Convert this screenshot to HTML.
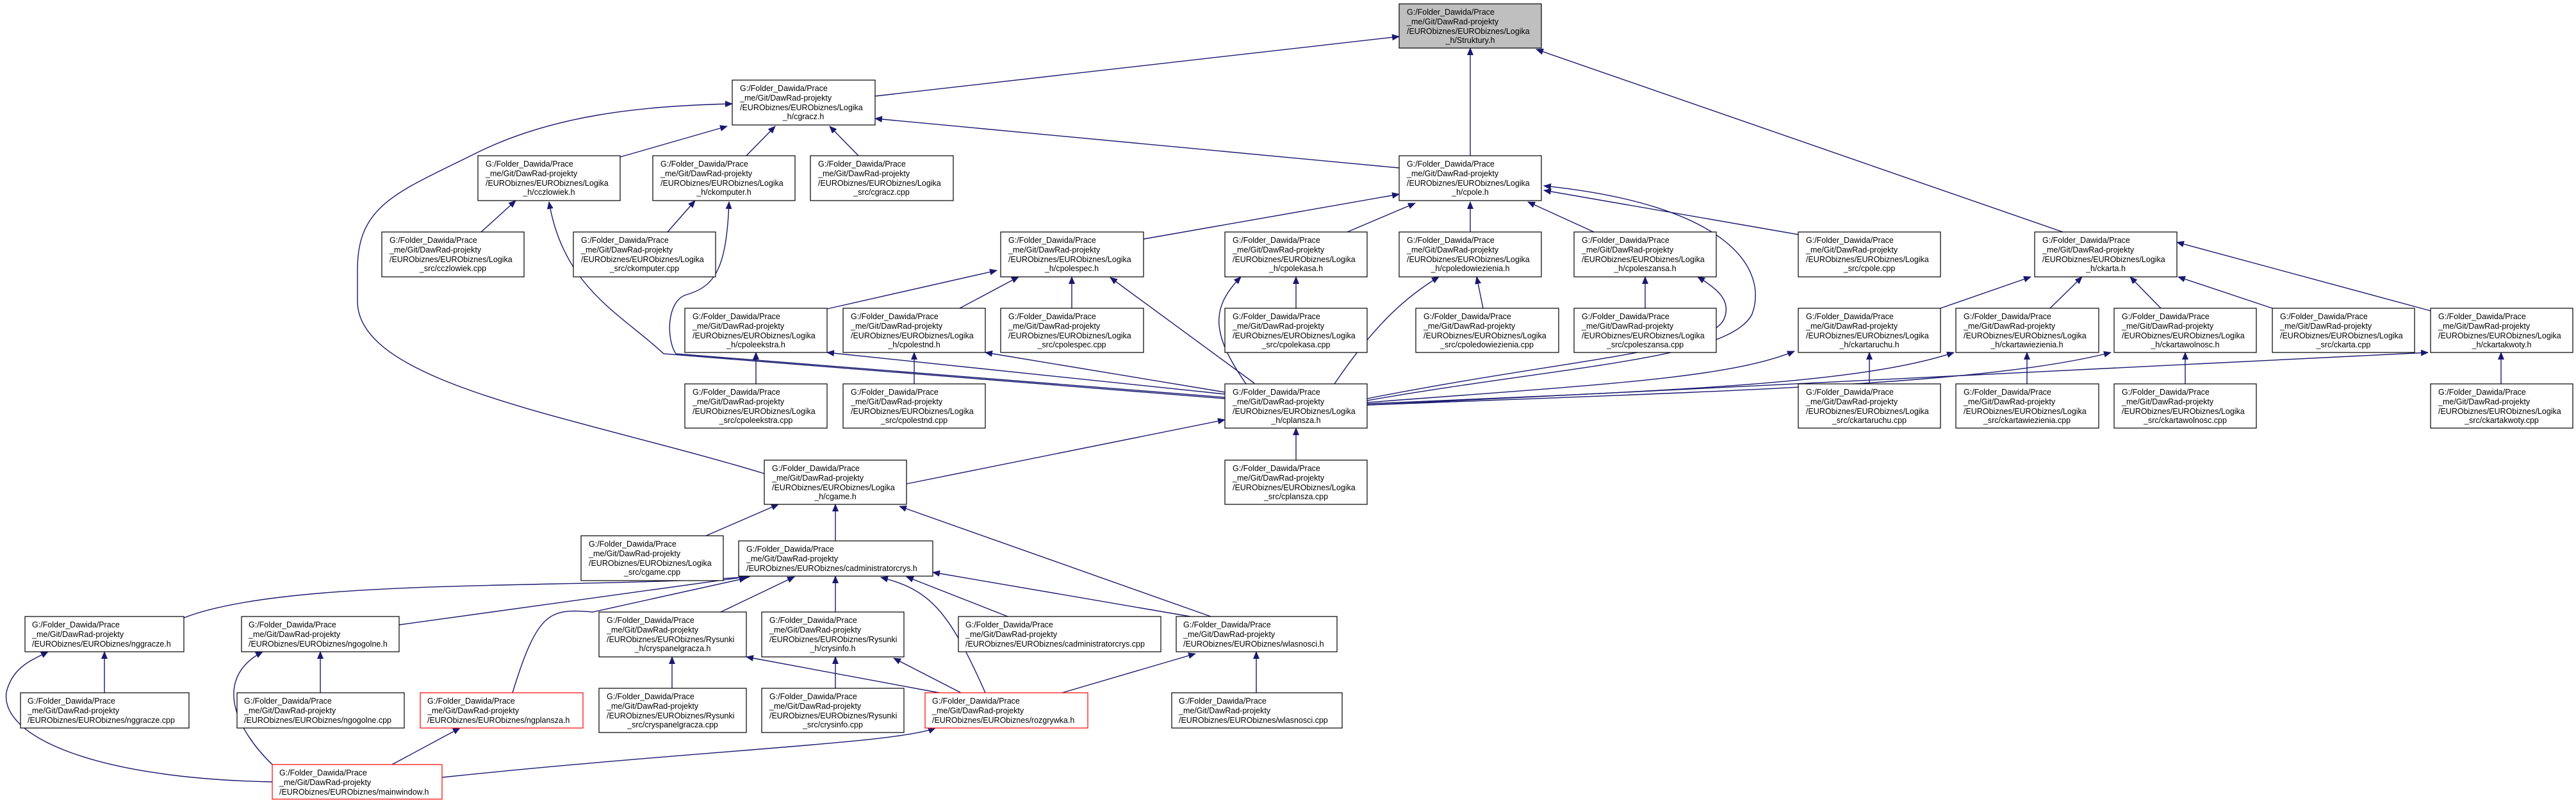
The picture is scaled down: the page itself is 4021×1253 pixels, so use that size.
<!DOCTYPE html>
<html><head><meta charset="utf-8"><style>
html,body{margin:0;padding:0;background:#fff;}
svg{display:block;}
text{font-family:"Liberation Sans",sans-serif;font-size:12.5px;fill:#000;}
.e{fill:none;stroke:#191970;stroke-width:1.4;marker-end:url(#a);}
.n{fill:#fff;stroke:#000;stroke-width:1.2;}
.r{fill:#fff;stroke:#f00;stroke-width:1.2;}
.g{fill:#bfbfbf;stroke:#000;stroke-width:1.2;}
</style></head><body>
<svg width="4021" height="1253" viewBox="0 0 4021 1253" xmlns="http://www.w3.org/2000/svg">
<defs><marker id="a" markerWidth="12" markerHeight="10" refX="11" refY="5" orient="auto" markerUnits="userSpaceOnUse"><polygon points="0,0 12,5 0,10" fill="#191970"/></marker></defs>
<g>
<path class="e" d="M1366,150 L2184,57"/>
<path class="e" d="M2295,243 L2295,75"/>
<path class="e" d="M3220,362 L2398,77"/>
<path class="e" d="M2184,262 L1366,185"/>
<path class="e" d="M968,245 L1135,197"/>
<path class="e" d="M1165,243 L1210,197"/>
<path class="e" d="M1340,243 L1295,197"/>
<path class="e" d="M1193,739 C900,650 558,600 558,470 L558,420 C558,320 620,300 741,240 C860,180 1000,165 1143,162"/>
<path class="e" d="M751,362 L805,313"/>
<path class="e" d="M1912,622 L1036,552 C970,490 880,450 857,315"/>
<path class="e" d="M1042,362 L1085,313"/>
<path class="e" d="M1912,620 L1055,552 C1040,530 1040,470 1071,460 C1116,447 1134,420 1138,315"/>
<path class="e" d="M1785,373 L2184,303"/>
<path class="e" d="M2103,362 L2209,317"/>
<path class="e" d="M2295,362 L2295,315"/>
<path class="e" d="M2488,362 L2385,315"/>
<path class="e" d="M2813,367 L2410,297"/>
<path class="e" d="M2134,625 C2450,570 2700,560 2735,490 C2760,420 2700,320 2410,290"/>
<path class="e" d="M1673,481 L1673,432"/>
<path class="e" d="M1498,481 L1590,432"/>
<path class="e" d="M1291,482 L1556,422"/>
<path class="e" d="M1958,598 L1733,433"/>
<path class="e" d="M2023,481 L2023,432"/>
<path class="e" d="M1945,599 C1890,520 1890,480 1937,432"/>
<path class="e" d="M2315,481 L2305,432"/>
<path class="e" d="M2083,599 C2150,500 2200,460 2246,432"/>
<path class="e" d="M2568,481 L2568,432"/>
<path class="e" d="M2134,622 C2450,560 2660,550 2690,500 C2705,470 2680,450 2650,432"/>
<path class="e" d="M1180,599 L1180,550"/>
<path class="e" d="M1427,599 L1427,550"/>
<path class="e" d="M1912,615 L1291,550"/>
<path class="e" d="M1912,612 L1538,550"/>
<path class="e" d="M1415,755 L1912,655"/>
<path class="e" d="M2023,718 L2023,668"/>
<path class="e" d="M3029,481 L3170,432"/>
<path class="e" d="M3200,481 L3250,432"/>
<path class="e" d="M3373,481 L3325,432"/>
<path class="e" d="M3547,481 L3400,432"/>
<path class="e" d="M3794,485 L3398,378"/>
<path class="e" d="M2134,628 C2500,600 2700,590 2801,548"/>
<path class="e" d="M2134,630 C2600,610 2900,600 3050,550"/>
<path class="e" d="M2134,632 C2700,610 3100,600 3295,550"/>
<path class="e" d="M2134,632 L3790,550"/>
<path class="e" d="M2918,599 L2918,550"/>
<path class="e" d="M3164,599 L3164,550"/>
<path class="e" d="M3411,599 L3411,550"/>
<path class="e" d="M3904,599 L3904,550"/>
<path class="e" d="M1102,836 L1215,787"/>
<path class="e" d="M1304,844 L1304,787"/>
<path class="e" d="M1890,962 L1404,790"/>
<path class="e" d="M287,964 C450,900 900,920 1170,900"/>
<path class="e" d="M623,975 L1165,900"/>
<path class="e" d="M800,1081 C840,950 860,950 925,955 L1165,902"/>
<path class="e" d="M1125,955 L1240,900"/>
<path class="e" d="M1304,955 L1304,899"/>
<path class="e" d="M1538,1081 C1480,950 1450,920 1375,901"/>
<path class="e" d="M1573,962 L1415,900"/>
<path class="e" d="M1858,962 L1456,893"/>
<path class="e" d="M163,1081 L163,1017"/>
<path class="e" d="M500,1081 L500,1017"/>
<path class="e" d="M425,1220 C150,1215 0,1150 10,1080 C20,1040 50,1030 75,1017"/>
<path class="e" d="M425,1193 C370,1140 330,1060 410,1017"/>
<path class="e" d="M612,1193 L718,1136"/>
<path class="e" d="M690,1213 C1100,1170 1400,1160 1460,1136"/>
<path class="e" d="M1049,1074 L1049,1025"/>
<path class="e" d="M1304,1074 L1304,1025"/>
<path class="e" d="M1466,1081 L1165,1025"/>
<path class="e" d="M1500,1081 L1395,1027"/>
<path class="e" d="M1658,1081 L1866,1020"/>
<path class="e" d="M1961,1081 L1961,1017"/>
</g>

<!-- 4-line Logika nodes -->
<g>
<rect class="g" x="2184" y="6" width="222" height="69"/><text x="2196" y="23">G:/Folder_Dawida/Prace</text><text x="2196" y="38">_me/Git/DawRad-projekty</text><text x="2196" y="53">/EURObiznes/EURObiznes/Logika</text><text x="2295" y="67" text-anchor="middle">_h/Struktury.h</text>
<rect class="n" x="1143" y="125" width="223" height="70"/><text x="1155" y="142">G:/Folder_Dawida/Prace</text><text x="1155" y="157">_me/Git/DawRad-projekty</text><text x="1155" y="172">/EURObiznes/EURObiznes/Logika</text><text x="1254" y="186" text-anchor="middle">_h/cgracz.h</text>
<rect class="n" x="746" y="243" width="222" height="70"/><text x="758" y="260">G:/Folder_Dawida/Prace</text><text x="758" y="275">_me/Git/DawRad-projekty</text><text x="758" y="290">/EURObiznes/EURObiznes/Logika</text><text x="857" y="304" text-anchor="middle">_h/cczlowiek.h</text>
<rect class="n" x="1019" y="243" width="222" height="70"/><text x="1031" y="260">G:/Folder_Dawida/Prace</text><text x="1031" y="275">_me/Git/DawRad-projekty</text><text x="1031" y="290">/EURObiznes/EURObiznes/Logika</text><text x="1130" y="304" text-anchor="middle">_h/ckomputer.h</text>
<rect class="n" x="1265" y="243" width="223" height="70"/><text x="1277" y="260">G:/Folder_Dawida/Prace</text><text x="1277" y="275">_me/Git/DawRad-projekty</text><text x="1277" y="290">/EURObiznes/EURObiznes/Logika</text><text x="1376" y="304" text-anchor="middle">_src/cgracz.cpp</text>
<rect class="n" x="2184" y="243" width="222" height="70"/><text x="2196" y="260">G:/Folder_Dawida/Prace</text><text x="2196" y="275">_me/Git/DawRad-projekty</text><text x="2196" y="290">/EURObiznes/EURObiznes/Logika</text><text x="2295" y="304" text-anchor="middle">_h/cpole.h</text>

<rect class="n" x="596" y="362" width="222" height="70"/><text x="608" y="379">G:/Folder_Dawida/Prace</text><text x="608" y="394">_me/Git/DawRad-projekty</text><text x="608" y="409">/EURObiznes/EURObiznes/Logika</text><text x="707" y="423" text-anchor="middle">_src/cczlowiek.cpp</text>
<rect class="n" x="895" y="362" width="222" height="70"/><text x="907" y="379">G:/Folder_Dawida/Prace</text><text x="907" y="394">_me/Git/DawRad-projekty</text><text x="907" y="409">/EURObiznes/EURObiznes/Logika</text><text x="1006" y="423" text-anchor="middle">_src/ckomputer.cpp</text>
<rect class="n" x="1562" y="362" width="223" height="70"/><text x="1574" y="379">G:/Folder_Dawida/Prace</text><text x="1574" y="394">_me/Git/DawRad-projekty</text><text x="1574" y="409">/EURObiznes/EURObiznes/Logika</text><text x="1673" y="423" text-anchor="middle">_h/cpolespec.h</text>
<rect class="n" x="1912" y="362" width="222" height="70"/><text x="1924" y="379">G:/Folder_Dawida/Prace</text><text x="1924" y="394">_me/Git/DawRad-projekty</text><text x="1924" y="409">/EURObiznes/EURObiznes/Logika</text><text x="2023" y="423" text-anchor="middle">_h/cpolekasa.h</text>
<rect class="n" x="2184" y="362" width="222" height="70"/><text x="2196" y="379">G:/Folder_Dawida/Prace</text><text x="2196" y="394">_me/Git/DawRad-projekty</text><text x="2196" y="409">/EURObiznes/EURObiznes/Logika</text><text x="2295" y="423" text-anchor="middle">_h/cpoledowiezienia.h</text>
<rect class="n" x="2457" y="362" width="222" height="70"/><text x="2469" y="379">G:/Folder_Dawida/Prace</text><text x="2469" y="394">_me/Git/DawRad-projekty</text><text x="2469" y="409">/EURObiznes/EURObiznes/Logika</text><text x="2568" y="423" text-anchor="middle">_h/cpoleszansa.h</text>
<rect class="n" x="2807" y="362" width="222" height="70"/><text x="2819" y="379">G:/Folder_Dawida/Prace</text><text x="2819" y="394">_me/Git/DawRad-projekty</text><text x="2819" y="409">/EURObiznes/EURObiznes/Logika</text><text x="2918" y="423" text-anchor="middle">_src/cpole.cpp</text>
<rect class="n" x="3176" y="362" width="222" height="70"/><text x="3188" y="379">G:/Folder_Dawida/Prace</text><text x="3188" y="394">_me/Git/DawRad-projekty</text><text x="3188" y="409">/EURObiznes/EURObiznes/Logika</text><text x="3287" y="423" text-anchor="middle">_h/ckarta.h</text>

<rect class="n" x="1069" y="481" width="222" height="69"/><text x="1081" y="498">G:/Folder_Dawida/Prace</text><text x="1081" y="513">_me/Git/DawRad-projekty</text><text x="1081" y="528">/EURObiznes/EURObiznes/Logika</text><text x="1180" y="542" text-anchor="middle">_h/cpoleekstra.h</text>
<rect class="n" x="1316" y="481" width="222" height="69"/><text x="1328" y="498">G:/Folder_Dawida/Prace</text><text x="1328" y="513">_me/Git/DawRad-projekty</text><text x="1328" y="528">/EURObiznes/EURObiznes/Logika</text><text x="1427" y="542" text-anchor="middle">_h/cpolestnd.h</text>
<rect class="n" x="1562" y="481" width="223" height="69"/><text x="1574" y="498">G:/Folder_Dawida/Prace</text><text x="1574" y="513">_me/Git/DawRad-projekty</text><text x="1574" y="528">/EURObiznes/EURObiznes/Logika</text><text x="1673" y="542" text-anchor="middle">_src/cpolespec.cpp</text>
<rect class="n" x="1912" y="481" width="222" height="69"/><text x="1924" y="498">G:/Folder_Dawida/Prace</text><text x="1924" y="513">_me/Git/DawRad-projekty</text><text x="1924" y="528">/EURObiznes/EURObiznes/Logika</text><text x="2023" y="542" text-anchor="middle">_src/cpolekasa.cpp</text>
<rect class="n" x="2210" y="481" width="223" height="69"/><text x="2222" y="498">G:/Folder_Dawida/Prace</text><text x="2222" y="513">_me/Git/DawRad-projekty</text><text x="2222" y="528">/EURObiznes/EURObiznes/Logika</text><text x="2321" y="542" text-anchor="middle">_src/cpoledowiezienia.cpp</text>
<rect class="n" x="2457" y="481" width="222" height="69"/><text x="2469" y="498">G:/Folder_Dawida/Prace</text><text x="2469" y="513">_me/Git/DawRad-projekty</text><text x="2469" y="528">/EURObiznes/EURObiznes/Logika</text><text x="2568" y="542" text-anchor="middle">_src/cpoleszansa.cpp</text>
<rect class="n" x="2807" y="481" width="222" height="69"/><text x="2819" y="498">G:/Folder_Dawida/Prace</text><text x="2819" y="513">_me/Git/DawRad-projekty</text><text x="2819" y="528">/EURObiznes/EURObiznes/Logika</text><text x="2918" y="542" text-anchor="middle">_h/ckartaruchu.h</text>
<rect class="n" x="3053" y="481" width="223" height="69"/><text x="3065" y="498">G:/Folder_Dawida/Prace</text><text x="3065" y="513">_me/Git/DawRad-projekty</text><text x="3065" y="528">/EURObiznes/EURObiznes/Logika</text><text x="3164" y="542" text-anchor="middle">_h/ckartawiezienia.h</text>
<rect class="n" x="3300" y="481" width="222" height="69"/><text x="3312" y="498">G:/Folder_Dawida/Prace</text><text x="3312" y="513">_me/Git/DawRad-projekty</text><text x="3312" y="528">/EURObiznes/EURObiznes/Logika</text><text x="3411" y="542" text-anchor="middle">_h/ckartawolnosc.h</text>
<rect class="n" x="3547" y="481" width="222" height="69"/><text x="3559" y="498">G:/Folder_Dawida/Prace</text><text x="3559" y="513">_me/Git/DawRad-projekty</text><text x="3559" y="528">/EURObiznes/EURObiznes/Logika</text><text x="3658" y="542" text-anchor="middle">_src/ckarta.cpp</text>
<rect class="n" x="3794" y="481" width="222" height="69"/><text x="3806" y="498">G:/Folder_Dawida/Prace</text><text x="3806" y="513">_me/Git/DawRad-projekty</text><text x="3806" y="528">/EURObiznes/EURObiznes/Logika</text><text x="3905" y="542" text-anchor="middle">_h/ckartakwoty.h</text>

<rect class="n" x="1069" y="599" width="222" height="69"/><text x="1081" y="616">G:/Folder_Dawida/Prace</text><text x="1081" y="631">_me/Git/DawRad-projekty</text><text x="1081" y="646">/EURObiznes/EURObiznes/Logika</text><text x="1180" y="660" text-anchor="middle">_src/cpoleekstra.cpp</text>
<rect class="n" x="1316" y="599" width="222" height="69"/><text x="1328" y="616">G:/Folder_Dawida/Prace</text><text x="1328" y="631">_me/Git/DawRad-projekty</text><text x="1328" y="646">/EURObiznes/EURObiznes/Logika</text><text x="1427" y="660" text-anchor="middle">_src/cpolestnd.cpp</text>
<rect class="n" x="1912" y="599" width="222" height="69"/><text x="1924" y="616">G:/Folder_Dawida/Prace</text><text x="1924" y="631">_me/Git/DawRad-projekty</text><text x="1924" y="646">/EURObiznes/EURObiznes/Logika</text><text x="2023" y="660" text-anchor="middle">_h/cplansza.h</text>
<rect class="n" x="2807" y="599" width="222" height="69"/><text x="2819" y="616">G:/Folder_Dawida/Prace</text><text x="2819" y="631">_me/Git/DawRad-projekty</text><text x="2819" y="646">/EURObiznes/EURObiznes/Logika</text><text x="2918" y="660" text-anchor="middle">_src/ckartaruchu.cpp</text>
<rect class="n" x="3053" y="599" width="223" height="69"/><text x="3065" y="616">G:/Folder_Dawida/Prace</text><text x="3065" y="631">_me/Git/DawRad-projekty</text><text x="3065" y="646">/EURObiznes/EURObiznes/Logika</text><text x="3164" y="660" text-anchor="middle">_src/ckartawiezienia.cpp</text>
<rect class="n" x="3300" y="599" width="222" height="69"/><text x="3312" y="616">G:/Folder_Dawida/Prace</text><text x="3312" y="631">_me/Git/DawRad-projekty</text><text x="3312" y="646">/EURObiznes/EURObiznes/Logika</text><text x="3411" y="660" text-anchor="middle">_src/ckartawolnosc.cpp</text>
<rect class="n" x="3794" y="599" width="222" height="69"/><text x="3806" y="616">G:/Folder_Dawida/Prace</text><text x="3806" y="631">_me/Git/DawRad-projekty</text><text x="3806" y="646">/EURObiznes/EURObiznes/Logika</text><text x="3905" y="660" text-anchor="middle">_src/ckartakwoty.cpp</text>

<rect class="n" x="1193" y="718" width="222" height="69"/><text x="1205" y="735">G:/Folder_Dawida/Prace</text><text x="1205" y="750">_me/Git/DawRad-projekty</text><text x="1205" y="765">/EURObiznes/EURObiznes/Logika</text><text x="1304" y="779" text-anchor="middle">_h/cgame.h</text>
<rect class="n" x="1912" y="718" width="222" height="69"/><text x="1924" y="735">G:/Folder_Dawida/Prace</text><text x="1924" y="750">_me/Git/DawRad-projekty</text><text x="1924" y="765">/EURObiznes/EURObiznes/Logika</text><text x="2023" y="779" text-anchor="middle">_src/cplansza.cpp</text>
<rect class="n" x="907" y="836" width="222" height="70"/><text x="919" y="853">G:/Folder_Dawida/Prace</text><text x="919" y="868">_me/Git/DawRad-projekty</text><text x="919" y="883">/EURObiznes/EURObiznes/Logika</text><text x="1018" y="897" text-anchor="middle">_src/cgame.cpp</text>

<rect class="n" x="935" y="955" width="230" height="70"/><text x="947" y="972">G:/Folder_Dawida/Prace</text><text x="947" y="987">_me/Git/DawRad-projekty</text><text x="947" y="1002">/EURObiznes/EURObiznes/Rysunki</text><text x="1050" y="1016" text-anchor="middle">_h/cryspanelgracza.h</text>
<rect class="n" x="1189" y="955" width="222" height="70"/><text x="1201" y="972">G:/Folder_Dawida/Prace</text><text x="1201" y="987">_me/Git/DawRad-projekty</text><text x="1201" y="1002">/EURObiznes/EURObiznes/Rysunki</text><text x="1300" y="1016" text-anchor="middle">_h/crysinfo.h</text>
<rect class="n" x="935" y="1074" width="230" height="69"/><text x="947" y="1091">G:/Folder_Dawida/Prace</text><text x="947" y="1106">_me/Git/DawRad-projekty</text><text x="947" y="1121">/EURObiznes/EURObiznes/Rysunki</text><text x="1050" y="1135" text-anchor="middle">_src/cryspanelgracza.cpp</text>
<rect class="n" x="1189" y="1074" width="222" height="69"/><text x="1201" y="1091">G:/Folder_Dawida/Prace</text><text x="1201" y="1106">_me/Git/DawRad-projekty</text><text x="1201" y="1121">/EURObiznes/EURObiznes/Rysunki</text><text x="1300" y="1135" text-anchor="middle">_src/crysinfo.cpp</text>
</g>

<!-- 3-line nodes -->
<g>
<rect class="n" x="1153" y="844" width="303" height="55"/><text x="1165" y="861">G:/Folder_Dawida/Prace</text><text x="1165" y="876">_me/Git/DawRad-projekty</text><text x="1165" y="891">/EURObiznes/EURObiznes/cadministratorcrys.h</text>
<rect class="n" x="39" y="962" width="248" height="55"/><text x="50" y="979">G:/Folder_Dawida/Prace</text><text x="50" y="994">_me/Git/DawRad-projekty</text><text x="50" y="1009">/EURObiznes/EURObiznes/nggracze.h</text>
<rect class="n" x="377" y="962" width="246" height="55"/><text x="388" y="979">G:/Folder_Dawida/Prace</text><text x="388" y="994">_me/Git/DawRad-projekty</text><text x="388" y="1009">/EURObiznes/EURObiznes/ngogolne.h</text>
<rect class="n" x="1496" y="962" width="316" height="55"/><text x="1507" y="979">G:/Folder_Dawida/Prace</text><text x="1507" y="994">_me/Git/DawRad-projekty</text><text x="1507" y="1009">/EURObiznes/EURObiznes/cadministratorcrys.cpp</text>
<rect class="n" x="1836" y="962" width="251" height="55"/><text x="1847" y="979">G:/Folder_Dawida/Prace</text><text x="1847" y="994">_me/Git/DawRad-projekty</text><text x="1847" y="1009">/EURObiznes/EURObiznes/wlasnosci.h</text>
<rect class="n" x="32" y="1081" width="263" height="55"/><text x="43" y="1098">G:/Folder_Dawida/Prace</text><text x="43" y="1113">_me/Git/DawRad-projekty</text><text x="43" y="1128">/EURObiznes/EURObiznes/nggracze.cpp</text>
<rect class="n" x="370" y="1081" width="261" height="55"/><text x="381" y="1098">G:/Folder_Dawida/Prace</text><text x="381" y="1113">_me/Git/DawRad-projekty</text><text x="381" y="1128">/EURObiznes/EURObiznes/ngogolne.cpp</text>
<rect class="r" x="656" y="1081" width="254" height="55"/><text x="667" y="1098">G:/Folder_Dawida/Prace</text><text x="667" y="1113">_me/Git/DawRad-projekty</text><text x="667" y="1128">/EURObiznes/EURObiznes/ngplansza.h</text>
<rect class="r" x="1444" y="1081" width="254" height="55"/><text x="1455" y="1098">G:/Folder_Dawida/Prace</text><text x="1455" y="1113">_me/Git/DawRad-projekty</text><text x="1455" y="1128">/EURObiznes/EURObiznes/rozgrywka.h</text>
<rect class="n" x="1829" y="1081" width="266" height="55"/><text x="1840" y="1098">G:/Folder_Dawida/Prace</text><text x="1840" y="1113">_me/Git/DawRad-projekty</text><text x="1840" y="1128">/EURObiznes/EURObiznes/wlasnosci.cpp</text>
<rect class="r" x="425" y="1193" width="265" height="54"/><text x="436" y="1210">G:/Folder_Dawida/Prace</text><text x="436" y="1225">_me/Git/DawRad-projekty</text><text x="436" y="1240">/EURObiznes/EURObiznes/mainwindow.h</text>
</g>
</svg>
</body></html>
